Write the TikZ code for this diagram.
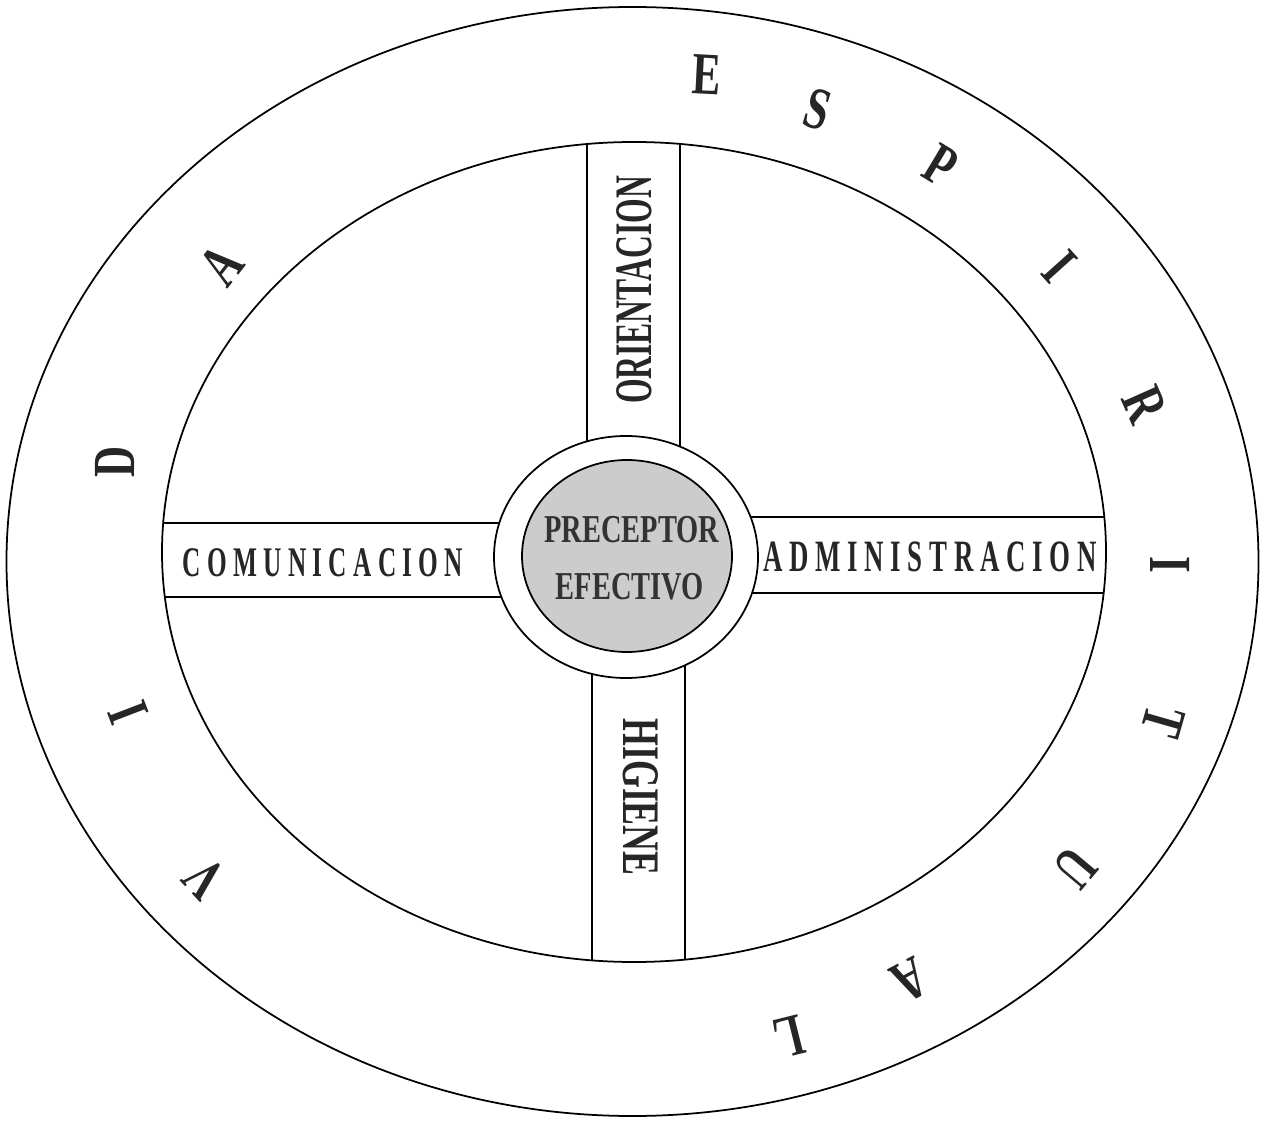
\documentclass[tikz,border=0pt]{standalone}
\usepackage{fontspec}
\setmainfont{Liberation Serif}
\newfontfamily\ringfont[FakeStretch=0.72]{Liberation Serif}
\newfontfamily\barfont[FakeStretch=0.6]{Liberation Serif}
\newfontfamily\corefont[FakeStretch=0.72]{Liberation Serif}

\begin{document}
\begin{tikzpicture}[x=0.02cm, y=-0.02cm, line cap=round, line width=1pt,
    ringletter/.style={text=black!85, inner sep=0pt,
      font=\ringfont\bfseries\fontsize{34}{34}\selectfont},
    barlabel/.style={text=black!85, inner sep=0pt,
      font=\barfont\bfseries\fontsize{30}{30}\selectfont},
    sidelabel/.style={text=black!85, inner sep=0pt,
      font=\barfont\bfseries\fontsize{#1}{#1}\selectfont\addfontfeature{LetterSpace=15}},
    corelabel/.style={text=black!80, inner sep=0pt,
      font=\corefont\bfseries\fontsize{22.5}{22.5}\selectfont}]
  \useasboundingbox (0,0) rectangle (1271,1121);
  \coordinate (outer) at (632.5,561.5);
  \coordinate (inner) at (634,552);
  \coordinate (core)  at (626,557);
  % the two ellipses of the ring
  \draw (outer) ellipse [x radius=626, y radius=554.5];
  \draw (inner) ellipse [x radius=472, y radius=410];
  % the four bars, cut at the inner ellipse
  \begin{scope}
    \clip (inner) ellipse [x radius=472, y radius=410];
    \draw (587,100) -- (587,556) (680,100) -- (680,556);
    \draw (592,556) -- (592,1000) (685,556) -- (685,1000);
    \draw (120,523) -- (626,523) (120,597) -- (626,597);
    \draw (626,517) -- (1130,517) (626,593) -- (1130,593);
  \end{scope}
  % centre: white ring and shaded disc
  \draw[fill=white] (core) ellipse [x radius=132, y radius=121];
  \draw[fill=gray!40] (627,556) ellipse [x radius=105, y radius=96];
  \node[corelabel] (prec) at (632,530) {PRECEPTOR};
  \node[corelabel] (efec) at (630,587) {EFECTIVO};
  % bar labels
  \node[barlabel, rotate=90] (orient) at (634.5,290) {ORIENTACION};
  \node[barlabel, rotate=-90, font=\barfont\bfseries\fontsize{30}{30}\selectfont\addfontfeature{FakeStretch=0.68}] (higiene) at (641,797) {HIGIENE};
  \node[sidelabel=24] (comun) at (323,563) {COMUNICACION};
  \node[sidelabel=25.5] (admin) at (930,557) {ADMINISTRACION};
  % letters round the ring
  \foreach \ch/\px/\py/\rot [count=\i] in {V/205/878/133, I/128/713/111,
      D/115/462/90, A/222/265/52, E/707/75/-3, S/818/109/-17,
      P/941/166/-31, I/1060/267/-48, R/1145/405/-66, I/1170/565/-90,
      T/1163/722/-106, U/1075/868/-130, A/910/980/-152, L/789/1037/-166}{
    \node[ringletter, rotate=\rot] (ring\i) at (\px,\py) {\ch};
  }
\end{tikzpicture}
\end{document}
